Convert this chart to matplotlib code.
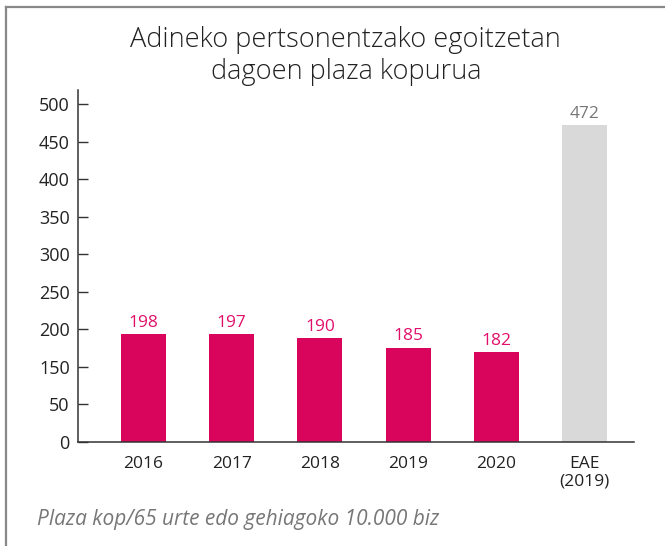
import numpy as np
import matplotlib
matplotlib.use("Agg")
import matplotlib.pyplot as plt
from matplotlib.lines import Line2D

# ---- data ----
categories = ["2016", "2017", "2018", "2019", "2020", "EAE\n(2019)"]
bar_heights = [193.5, 193.5, 188, 175, 169.5, 472]   # heights as drawn on the axis
value_labels = ["198", "197", "190", "185", "182", "472"]
y_tick_values = [0, 50, 150, 200, 250, 300, 350, 400, 450, 500]
y_tick_labels = ["0", "50", "150", "200", "250", "300", "350", "400", "450", "500"]
title = "Adineko pertsonentzako egoitzetan\ndagoen plaza kopurua"
footnote = "Plaza kop/65 urte edo gehiagoko 10.000 biz"

plt.rcParams['font.family'] = ['Open Sans', 'DejaVu Sans']

MAGENTA = "#D9045C"
MAGENTA_TXT = "#E0106A"
GREY_BAR = "#D9D9D9"
GREY_TXT = "#777777"
DARK = "#222222"

# evenly spaced ticks with the "100" step missing (as in the original axis)
def fwd(v):
    v = np.asarray(v, dtype=float)
    return np.where(v <= 50, v / 50.0,
                    np.where(v <= 150, 1 + (v - 50) / 100.0, (v - 50) / 50.0))

def inv(p):
    p = np.asarray(p, dtype=float)
    return np.where(p <= 1, 50.0 * p,
                    np.where(p <= 2, 50 + 100.0 * (p - 1), 50.0 * p + 50))

fig = plt.figure(figsize=(6.65, 5.46), dpi=100)
ax = fig.add_axes([78/665, 1 - 441.7/546, (634-78)/665, (441.7-90)/546])
ax.set_yscale('function', functions=(fwd, inv))

x = np.arange(len(categories))
colors = [MAGENTA] * 5 + [GREY_BAR]
ax.bar(x, bar_heights, width=0.51, color=colors, zorder=2)

for xi, h, lab, c in zip(x, bar_heights, value_labels, colors):
    tc = GREY_TXT if c == GREY_BAR else MAGENTA_TXT
    ax.annotate(lab, (xi, h), xytext=(0, 2.5), textcoords='offset points',
                ha='center', va='bottom', fontsize=12.5, color=tc)

ax.set_xlim(-0.743, 5.56)
ax.set_ylim(0, 519)
ax.set_yticks(y_tick_values)
ax.set_yticklabels(y_tick_labels)
ax.yaxis.set_minor_locator(matplotlib.ticker.NullLocator())
ax.set_xticks(x)
ax.set_xticklabels(categories, linespacing=1.15)

for s in ['top', 'right']:
    ax.spines[s].set_visible(False)
for s in ['left', 'bottom']:
    ax.spines[s].set_color('#333333')
    ax.spines[s].set_linewidth(1.1)

ax.tick_params(axis='y', direction='in', length=7, width=1.0, color='#333333',
               labelsize=13, labelcolor=DARK, pad=6)
ax.tick_params(axis='x', length=0, labelsize=12.5, labelcolor=DARK, pad=10)

fig.text(0.520, 1 - 56/546, title, ha='center', va='center', fontsize=19.5,
         color=DARK, linespacing=1.2, fontweight='light')
fig.text(37/665, 1 - 519/546, footnote, ha='left', va='center', fontsize=15,
         style='italic', color=GREY_TXT)

# outer frame (top and left lines)
fig.add_artist(Line2D([6/665, 6/665], [0, 1 - 7/546], transform=fig.transFigure,
                      color='#888888', linewidth=1.6))
fig.add_artist(Line2D([6/665, 1], [1 - 7/546, 1 - 7/546], transform=fig.transFigure,
                      color='#888888', linewidth=1.6))

fig.savefig("out.png", dpi=100)
